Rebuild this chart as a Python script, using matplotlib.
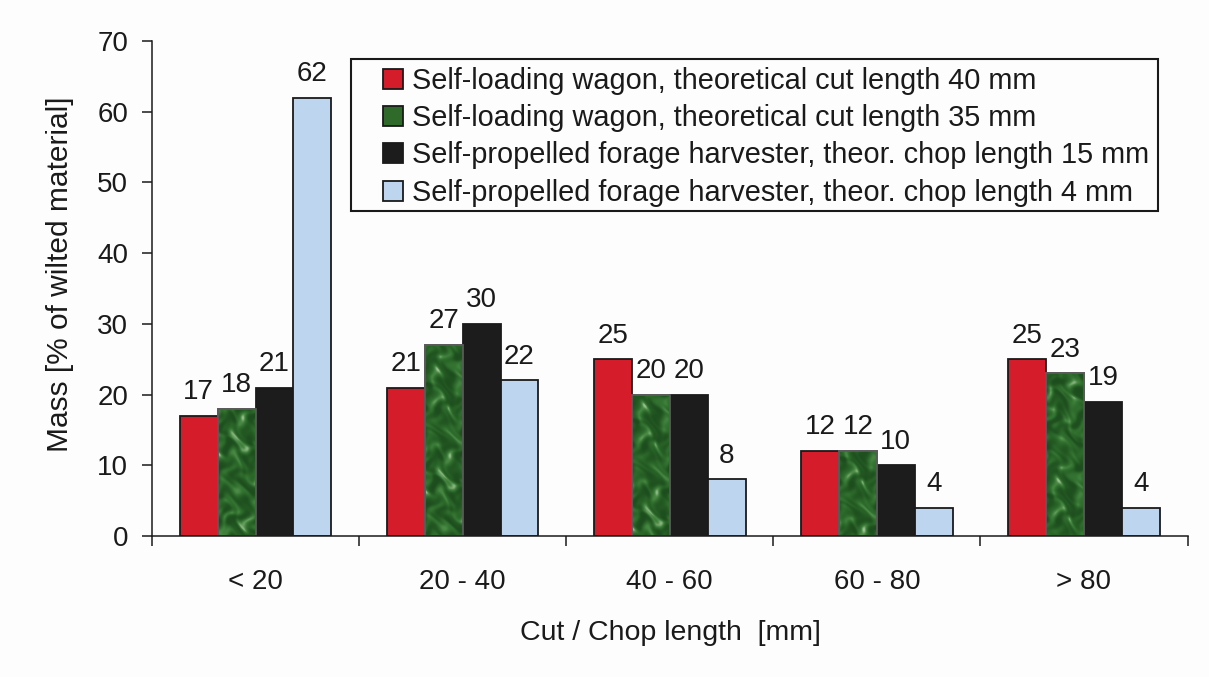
import numpy as np
import matplotlib
matplotlib.use("Agg")
import matplotlib.pyplot as plt
from matplotlib.patches import Rectangle, Patch
from matplotlib.colors import LinearSegmentedColormap

categories = ["< 20", "20 - 40", "40 - 60", "60 - 80", "> 80"]
series_names = [
    "Self-loading wagon, theoretical cut length 40 mm",
    "Self-loading wagon, theoretical cut length 35 mm",
    "Self-propelled forage harvester, theor. chop length 15 mm",
    "Self-propelled forage harvester, theor. chop length 4 mm",
]
wagon_40 = [17, 21, 25, 12, 25]
wagon_35 = [18, 27, 20, 12, 23]
harvester_15 = [21, 30, 20, 10, 19]
harvester_4 = [62, 22, 8, 4, 4]
series_values = [wagon_40, wagon_35, harvester_15, harvester_4]
y_ticks = [0, 10, 20, 30, 40, 50, 60, 70]

colors = ["#d41c2a", "#2f6a2b", "#1c1c1c", "#bdd5ee"]
edges = ["#1a1a1a", "#5a5a5a", "#1a1a1a", "#1a1a1a"]

plt.rcParams['font.family'] = ['Liberation Sans', 'DejaVu Sans']
W, H = 1209, 677
fig = plt.figure(figsize=(W / 100, H / 100), dpi=100)
fig.patch.set_facecolor("#fdfdfd")

left, right, top, bottom = 152, 1187.5, 41, 536
ax = fig.add_axes([left / W, 1 - bottom / H, (right - left) / W, (bottom - top) / H])
ax.set_facecolor("#fdfdfd")
px_per_unit = (bottom - top) / 70.0

n = len(categories)
bw = 0.183
x = np.arange(n) + 0.5
green_cmap = LinearSegmentedColormap.from_list(
    "g", ["#1d4d1e", "#2a6428", "#357533", "#4f8c49", "#9cc293"])


def marble(h_px, w_px, shift):
    yy, xx = np.mgrid[0:h_px, 0:w_px].astype(float)
    yy = yy + shift
    wx = xx + 5.0 * np.sin(yy * 0.13 + 0.4) + 3.0 * np.cos(yy * 0.29 + xx * 0.11)
    wy = yy + 5.0 * np.cos(xx * 0.17 + 1.1) + 3.0 * np.sin(xx * 0.31 + yy * 0.07)
    t = (np.sin(wx * 0.19 + wy * 0.11) * np.cos(wy * 0.15 - wx * 0.07)
         + 0.7 * np.sin((wx - 0.6 * wy) * 0.33 + 0.7) * np.sin(wy * 0.09)
         + 0.5 * np.cos(wy * 0.41 + wx * 0.27) * np.cos(wx * 0.23))
    t = (t - t.min()) / (t.max() - t.min())
    return t ** 2.2


for j, vals in enumerate(series_values):
    pos = x + (j - 1.5) * bw
    bars = ax.bar(pos, vals, width=bw, color=colors[j], edgecolor=edges[j],
                  linewidth=1.3, zorder=2)
    if j == 1:
        for k, b in enumerate(bars):
            x0, y0 = b.get_x(), b.get_y()
            w, h = b.get_width(), b.get_height()
            h_px = max(int(round(h * px_per_unit)), 2)
            t = marble(h_px, 38, k * 37)
            im = ax.imshow(t, cmap=green_cmap, extent=[x0, x0 + w, y0, y0 + h],
                           aspect='auto', zorder=2.1, interpolation='bilinear',
                           origin='lower')
            im.set_clip_path(b)
            ax.add_patch(Rectangle((x0, y0), w, h, fill=False,
                                   edgecolor=edges[j], linewidth=1.3, zorder=2.2))
    for p, v in zip(pos, vals):
        ax.annotate(f"{v}", (p, v), xytext=(0, 12), textcoords="offset points",
                    ha="center", va="baseline", fontsize=20, color="#1a1a1a")

ax.set_xlim(0, n)
ax.set_ylim(0, 70)
ax.set_yticks(y_ticks)
ax.tick_params(axis='y', direction='out', length=7.2, width=1.1, pad=10,
               labelsize=20, colors="#1a1a1a")
ax.set_xticks(x)
ax.set_xticklabels(categories)
ax.set_xticks(np.arange(n + 1), minor=True)
ax.tick_params(axis='x', which='major', length=0, pad=24, labelsize=20,
               colors="#1a1a1a")
ax.tick_params(axis='x', which='minor', direction='out', length=7, width=1.1,
               colors="#1a1a1a")
for s in ['top', 'right']:
    ax.spines[s].set_visible(False)
for s in ['left', 'bottom']:
    ax.spines[s].set_linewidth(1.1)
    ax.spines[s].set_color("#1a1a1a")

fig.text(670 / W, 1 - 640 / H, "Cut / Chop length  [mm]", ha="center",
         va="baseline", fontsize=20.5, color="#1a1a1a")
fig.text(60 / W, 1 - 274 / H, "Mass [% of wilted material]", rotation=90,
         ha="center", va="center", fontsize=21.5, color="#1a1a1a")

handles = [Patch(facecolor=colors[j], edgecolor="#1a1a1a", linewidth=1.3)
           for j in range(4)]
leg = fig.legend(handles, series_names, loc="upper left",
                 bbox_to_anchor=(383 / W, 1 - 67 / H), frameon=False,
                 borderpad=0, borderaxespad=0, fontsize=20.8,
                 handlelength=0.7, handleheight=0.7,
                 handletextpad=0.32, labelspacing=0.32)
for t in leg.get_texts():
    t.set_color("#1a1a1a")
fig.patches.append(Rectangle((351 / W, 1 - 211 / H), (1158 - 351) / W,
                             (211 - 59) / H, transform=fig.transFigure,
                             fill=False, edgecolor="#1a1a1a", linewidth=1.5,
                             zorder=5))

fig.savefig("out.png", dpi=100, facecolor=fig.get_facecolor())
